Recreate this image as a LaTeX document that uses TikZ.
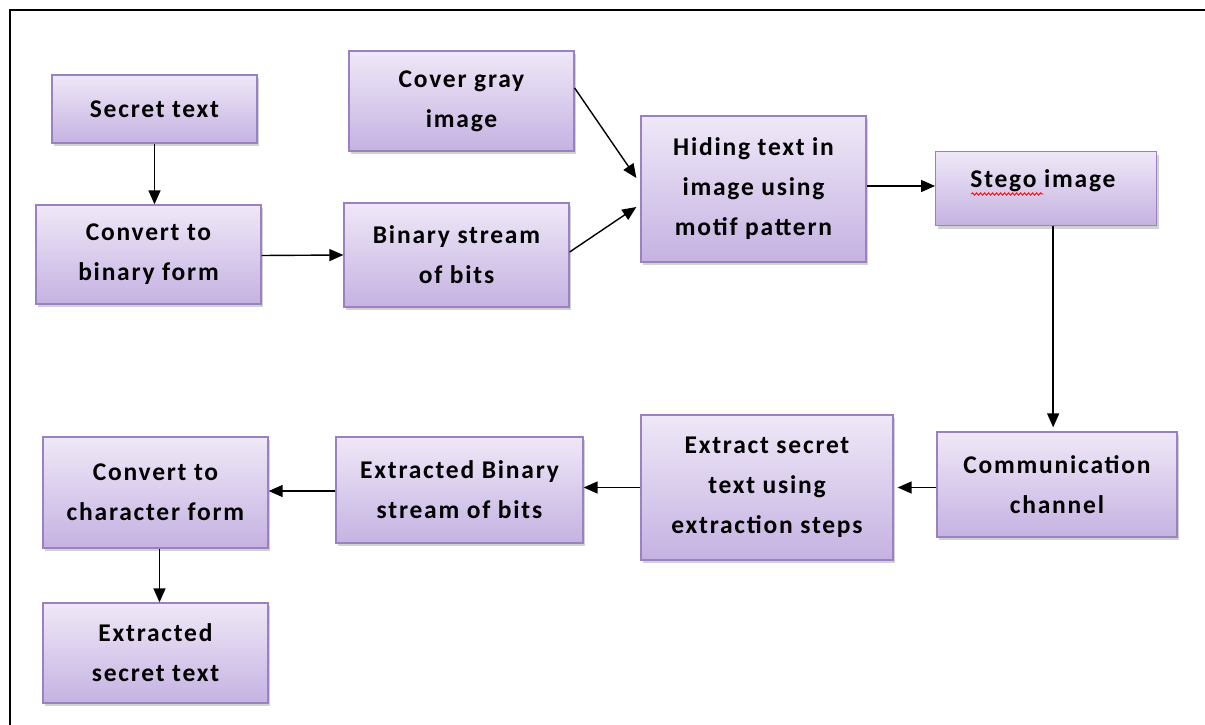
\documentclass[tikz,border=0pt]{standalone}
\usepackage{fontspec}
\setmainfont{Carlito}[LetterSpace=7]
\usetikzlibrary{arrows.meta,shadows,decorations.pathmorphing}
\definecolor{boxtop}{HTML}{EFE8F7}
\definecolor{boxbot}{HTML}{C5B2E2}
\definecolor{boxline}{HTML}{9A82C2}
\tikzset{
  x=1pt,y=-1pt,
  boxfont/.style={font=\bfseries\fontsize{25.5}{40}\selectfont},
  box/.style={draw=boxline, line width=1.3pt, top color=boxtop, bottom color=boxbot,
    align=center, inner sep=0pt, boxfont,
    drop shadow={opacity=0.35, shadow xshift=2pt, shadow yshift=-3pt}},
  conn/.style={draw=black, line width=1.4pt, -{Triangle[length=14pt,width=12pt]}},
}
\newcommand{\bx}[7]{% name, x1, y1, x2, y2, text
  \node[box, minimum width=#4-#2, minimum height=#5-#3] (#1) at ({(#2+#4)/2},{(#3+#5)/2}) {#6};}
\begin{document}
\begin{tikzpicture}
\useasboundingbox (0,0) rectangle (1205,725);
\fill[white] (0,0) rectangle (1205,725);
\draw[line width=2.2pt] (1215,10) -- (10,10) -- (10,735);

\bx{secret}{52}{75}{257}{143}{Secret text}{}
\bx{conv}{36}{205}{261}{304}{Convert to\\binary form}{}
\bx{cover}{349}{51}{574}{151}{Cover gray\\image}{}
\bx{bin}{344}{203}{569}{307}{Binary stream\\of bits}{}
\bx{hide}{641}{116}{866}{262}{Hiding text in\\image using\\motif pattern}{}
\node[box, minimum width=221, minimum height=74, anchor=north west] (stego) at (935,151) {};
\node[boxfont, inner sep=0pt] (stegotxt) at (1043,181) {Stego image};
\draw[red, line width=0.8pt, decorate, decoration={snake, amplitude=1.2pt, segment length=4pt}]
  ([xshift=1pt,yshift=-13pt]stegotxt.west) -- ++(72,0);
\bx{comm}{937}{432}{1177}{537}{Communication\\channel}{}
\bx{extract}{641}{415}{893}{560}{Extract secret\\text using\\extraction steps}{}
\bx{exbin}{336}{437}{583}{543}{Extracted Binary\\stream of bits}{}
\bx{convc}{43}{437}{268}{548}{Convert to\\character form}{}
\bx{exsec}{43}{603}{268}{703}{Extracted\\secret text}{}

\draw[conn] (secret.south) coordinate (a1) -- (a1 |- conv.north);
\draw[conn] ([yshift=-1pt]conv.east) -- ([yshift=0pt]bin.west);
\draw[conn] ([yshift=13pt]cover.east) -- ([xshift=-4pt,yshift=11pt]hide.west);
\draw[conn] ([yshift=3pt]bin.east) -- ([xshift=-4pt,yshift=-18pt]hide.west);
\draw[conn] ([yshift=3pt]hide.east) coordinate (a2) -- (a2 -| stego.west);
\draw[conn] ([xshift=7pt]stego.south) coordinate (a3) -- ([yshift=4pt]a3 |- comm.north);
\draw[conn] ([yshift=-3pt]comm.west) coordinate (a4) -- ([xshift=4pt]a4 -| extract.east);
\draw[conn] (extract.west) coordinate (a5) -- (a5 -| exbin.east);
\draw[conn] ([yshift=-1pt]exbin.west) coordinate (a6) -- (a6 -| convc.east);
\draw[conn] ([xshift=4pt]convc.south) coordinate (a7) -- (a7 |- exsec.north);
\end{tikzpicture}
\end{document}
